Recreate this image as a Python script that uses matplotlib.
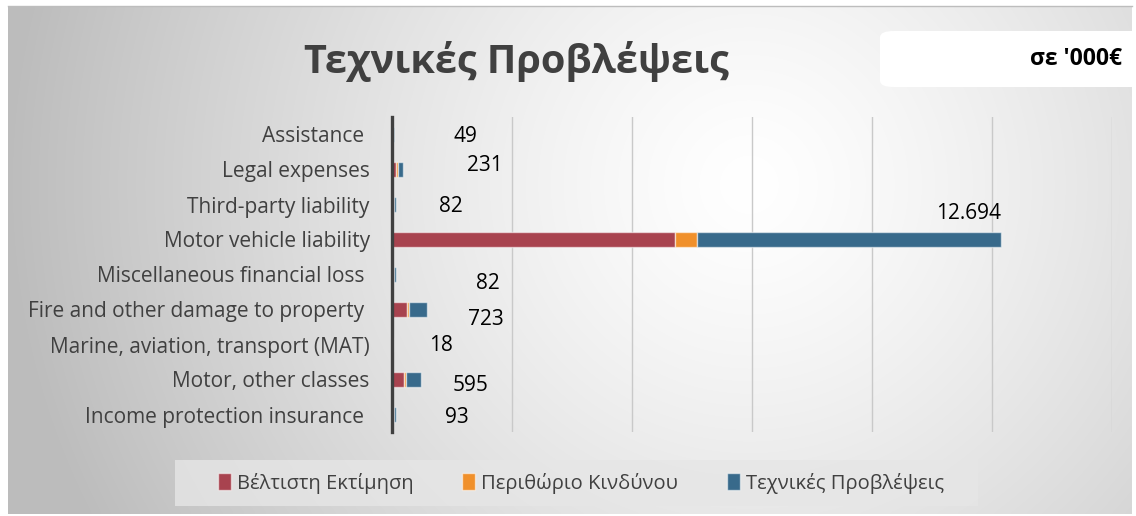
import numpy as np
import matplotlib
matplotlib.use("Agg")
import matplotlib.pyplot as plt
from matplotlib.patches import FancyBboxPatch, Rectangle

# ── Data (σε '000€) ──────────────────────────────────────────────
categories = [
    "Income protection insurance ",
    "Motor, other classes",
    "Marine, aviation, transport (MAT)",
    "Fire and other damage to property ",
    "Miscellaneous financial loss ",
    "Motor vehicle liability",
    "Third-party liability",
    "Legal expenses",
    "Assistance ",
]
best_estimate = [80, 500, 16, 615, 70, 11800, 70, 180, 42]
risk_margin = [13, 95, 2, 108, 12, 894, 12, 51, 7]
tech_provisions = [93, 595, 18, 723, 82, 12694, 82, 231, 49]

series_names = ["Βέλτιστη Εκτίμηση", "Περιθώριο Κινδύνου", "Τεχνικές Προβλέψεις"]

# manual label placement (pixels from end of stacked bar)
label_offsets = [(60, -3), (50, -6), (48, -1), (59, -10), (92, -9),
                 (-33, 26), (55, -2), (82, 4), (71, -2)]

RED = "#A8434F"
ORANGE = "#F0902B"
BLUE = "#386A8B"
FONTS = ["Open Sans", "DejaVu Sans"]

W, H = 1136, 516
fig = plt.figure(figsize=(W / 100, H / 100), dpi=100, facecolor="white")

# ── Background gradient ─────────────────────────────────────────
bg = fig.add_axes([8 / W, 2 / H, 1124 / W, 507 / H])
gx, gy = np.meshgrid(np.linspace(0, 1, 400), np.linspace(0, 1, 200))
r = np.sqrt(((gx - 0.66) * 2.2) ** 2 + ((gy - 0.35) * 1.0) ** 2)
shade = 1.0 - 0.26 * np.clip(r / 1.45, 0, 1) ** 1.3
bg.imshow(np.dstack([shade] * 3), aspect="auto", extent=(0, 1, 0, 1),
          origin="upper", interpolation="bicubic")
bg.set_xlim(0, 1)
bg.set_ylim(0, 1)
bg.axis("off")
fig.add_artist(plt.Line2D([8 / W, 1132 / W], [1 - 6 / H] * 2,
                          color="#BDBDBD", lw=1))

# ── Main chart ──────────────────────────────────────────────────
ax = fig.add_axes([392 / W, 1 - 432 / H, 720 / W, 315 / H])
ax.patch.set_alpha(0)
y = np.arange(len(categories))
be = np.array(best_estimate)
rm = np.array(risk_margin)
tp = np.array(tech_provisions)

edge = dict(edgecolor=(1, 1, 1, 0.55), linewidth=1)
ax.barh(y, be, height=0.43, color=RED, label=series_names[0], **edge)
ax.barh(y, rm, left=be, height=0.43, color=ORANGE, label=series_names[1], **edge)
ax.barh(y, tp, left=be + rm, height=0.43, color=BLUE, label=series_names[2], **edge)

for i, v in enumerate(tp):
    end = be[i] + rm[i] + tp[i]
    dx, dy = label_offsets[i]
    ax.annotate(f"{v:,}".replace(",", "."), (end, y[i]),
                xytext=(dx, dy), textcoords="offset pixels",
                ha="center", va="center", fontsize=15, color="black",
                family=FONTS)

ax.set_xlim(0, 30000)
ax.set_ylim(-0.5, len(categories) - 0.5)
ax.set_xticks(np.arange(5000, 30001, 5000))
ax.set_xticklabels([])
ax.tick_params(axis="x", length=0)
ax.tick_params(axis="y", length=0, pad=16)
ax.set_yticks(y)
ax.set_yticklabels(categories, fontsize=15, color="#404040", family=FONTS)
ax.grid(axis="x", color="#C9C9C9", linewidth=1)
ax.set_axisbelow(True)
for s in ["top", "right", "bottom"]:
    ax.spines[s].set_visible(False)
ax.spines["left"].set_color("#404040")
ax.spines["left"].set_linewidth(2.4)

# ── Title and unit box ──────────────────────────────────────────
fig.text(516 / W, 1 - 61 / H, "Τεχνικές Προβλέψεις", ha="center", va="center",
         fontsize=28.5, fontweight="bold", color="#404040", family=FONTS)
fig.add_artist(FancyBboxPatch((880 / W, 1 - 87 / H), 270 / W, 56 / H,
                              boxstyle="round,pad=0,rounding_size=0.012",
                              transform=fig.transFigure, facecolor="white",
                              edgecolor="none"))
fig.text(1122 / W, 1 - 59 / H, "σε '000€", ha="right", va="center",
         fontsize=16.5, fontweight="bold", color="black", family=FONTS)

# ── Legend ──────────────────────────────────────────────────────
fig.add_artist(Rectangle((175 / W, 1 - 506 / H), 803 / W, 46 / H,
                         transform=fig.transFigure, facecolor="#E6E6E6",
                         edgecolor="none", alpha=0.8))
handles, labels = ax.get_legend_handles_labels()
fig.legend(handles, labels, loc="center", bbox_to_anchor=(581 / W, 1 - 483 / H),
           ncol=3, frameon=False, handlelength=0.65, handleheight=0.9,
           handletextpad=0.3, columnspacing=2.4,
           prop={"family": FONTS, "size": 14.5}, labelcolor="#404040")

fig.savefig("out.png", dpi=100, facecolor="white")
